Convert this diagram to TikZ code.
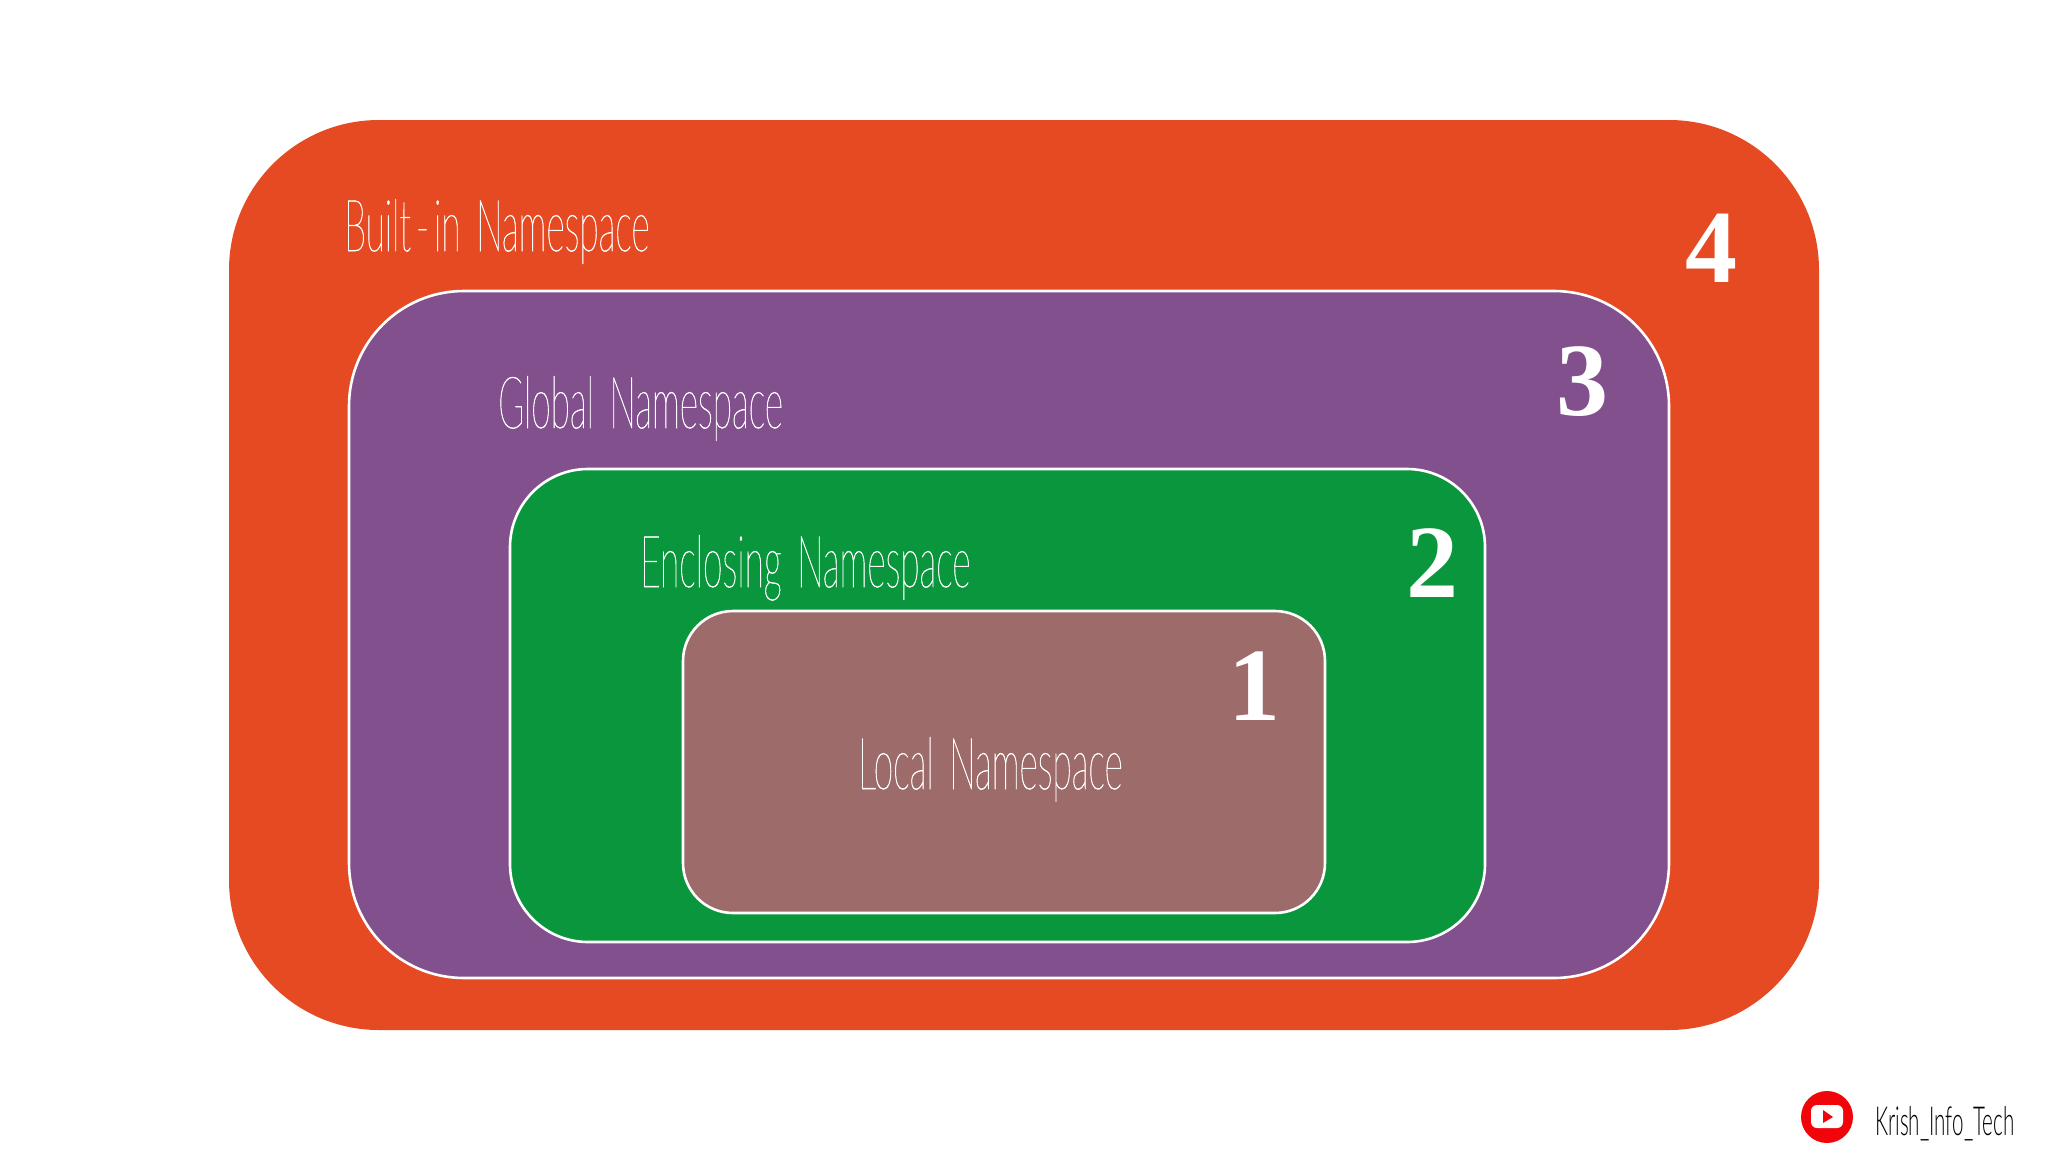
\documentclass[tikz,border=0pt]{standalone}
\usepackage{fontspec}
\setmainfont{Liberation Serif}
\newfontfamily\thinfont[FakeStretch=0.49,FakeBold=0.7,WordSpace=1.55]{Lato Thin}
\newfontfamily\creditfont[FakeStretch=0.515,WordSpace=1.9]{Lato Light}
\newfontfamily\numfont{Liberation Serif}[BoldFont=Liberation Serif Bold]
\definecolor{outerc}{HTML}{E64A22}
\definecolor{purplec}{HTML}{82508D}
\definecolor{greenc}{HTML}{0A963C}
\definecolor{brownc}{HTML}{9E6B6B}
\definecolor{ytred}{HTML}{F2050A}
\tikzset{
  panel/.style={rounded corners=#1,draw=white,line width=2.6pt},
  title/.style={anchor=base west,inner sep=0pt,text=white,font=\thinfont\fontsize{72}{72}\selectfont},
  num/.style={anchor=base,inner sep=0pt,text=white,font=\numfont\bfseries\fontsize{104}{104}\selectfont},
  credit/.style={anchor=base west,inner sep=0pt,text=black,font=\creditfont\fontsize{40}{40}\selectfont}
}
\begin{document}
\begin{tikzpicture}[x=1pt,y=-1pt]
\useasboundingbox (0,0) rectangle (2048,1152);
\fill[white] (0,0) rectangle (2048,1152);
\fill[outerc,rounded corners=150pt] (229,120) rectangle (1819,1030);
\draw[panel=115pt,fill=purplec] (349,291) rectangle (1669,978);
\draw[panel=78pt,fill=greenc] (510,469) rectangle (1485,942);
\draw[panel=50pt,fill=brownc] (683,611) rectangle (1325,913);
\node[title] (t4) at (344,251) {Built\kern5pt-\kern5pt in Namespace};
\node[title] (t3) at (498,428) {Global Namespace};
\node[title] (t2) at (640,587) {Enclosing Namespace};
\node[title] (t1) at (858,789) {Local Namespace};
\node[num] (n4) at (1711,282) {4};
\node[num] (n3) at (1582,415) {3};
\node[num] (n2) at (1432,597) {2};
\node[num] (n1) at (1254,720) {1};
\fill[ytred] (1827,1117) circle (26);
\fill[white,rounded corners=6pt] (1811,1105) rectangle (1843,1128);
\fill[ytred] (1823,1110) -- (1833,1117) -- (1823,1123) -- cycle;
\node[credit] (cr) at (1875,1135) {Krish\_Info\_Tech};
\end{tikzpicture}
\end{document}
